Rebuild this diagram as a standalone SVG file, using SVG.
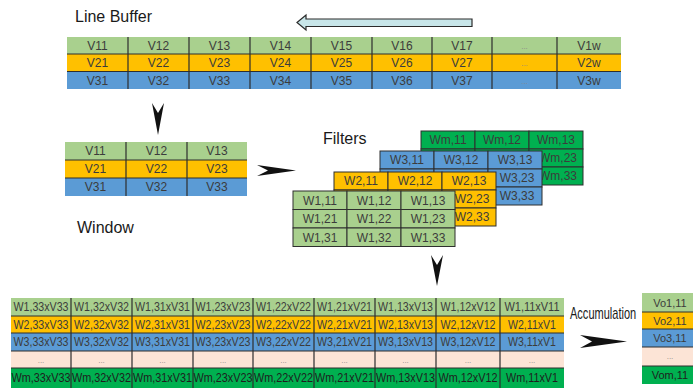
<svg xmlns="http://www.w3.org/2000/svg" width="693" height="390" viewBox="0 0 693 390">
<style>
.lg{fill:#a9d08e}.or{fill:#ffc000}.bl{fill:#5b9bd5}.dg{fill:#00b050}.pk{fill:#fce4d6}
.cell{stroke:#2e2e2e;stroke-width:1}
.ln{stroke:#2e2e2e;stroke-width:1.2;fill:none}
.t{font-family:"Liberation Sans",Arial,sans-serif;font-size:12px;fill:#3c3c3c;text-anchor:middle}
.tb{font-family:"Liberation Sans",Arial,sans-serif;font-size:12px;fill:#3c3c3c;text-anchor:middle}
.to{font-family:"Liberation Sans",Arial,sans-serif;font-size:11px;fill:#3c3c3c;text-anchor:middle}
.dots{font-family:"Liberation Sans",Arial,sans-serif;font-size:8px;fill:#8a8a8a;text-anchor:middle}
.lbl{font-family:"Liberation Sans",Arial,sans-serif;font-size:16px;fill:#1a1a1a}
.head{fill:#111}
</style>
<rect width="693" height="390" fill="#fff"/>

<g id="label-line-buffer"><text class="lbl" x="75" y="22">Line Buffer</text></g>
<g id="label-window"><text class="lbl" x="77" y="233">Window</text></g>
<g id="label-filters"><text class="lbl" x="323" y="144">Filters</text></g>
<g id="label-accumulation"><text class="lbl" transform="translate(570,319) scale(0.69,1)" x="0" y="0" font-size="17">Accumulation</text></g>

<g id="line-buffer">
<rect class="lg" x="67" y="37" width="554" height="17"/>
<rect class="or" x="67" y="54" width="554" height="17.5"/>
<rect class="bl" x="67" y="71.5" width="554" height="17.5"/>
<path class="ln" d="M67 54H621M67 71.5H621M128 37V89M189 37V89M250 37V89M311 37V89M372 37V89M432 37V89M492 37V89M557 37V89"/>
<text class="t" x="97.5" y="50">V11</text><text class="t" x="158.5" y="50">V12</text><text class="t" x="219.5" y="50">V13</text><text class="t" x="280.5" y="50">V14</text><text class="t" x="341.5" y="50">V15</text><text class="t" x="402" y="50">V16</text><text class="t" x="462" y="50">V17</text><text class="dots" x="524.5" y="49">...</text><text class="t" x="589" y="50">V1w</text>
<text class="t" x="97.5" y="67">V21</text><text class="t" x="158.5" y="67">V22</text><text class="t" x="219.5" y="67">V23</text><text class="t" x="280.5" y="67">V24</text><text class="t" x="341.5" y="67">V25</text><text class="t" x="402" y="67">V26</text><text class="t" x="462" y="67">V27</text><text class="dots" x="524.5" y="66">...</text><text class="t" x="589" y="67">V2w</text>
<text class="t" x="97.5" y="84.5">V31</text><text class="t" x="158.5" y="84.5">V32</text><text class="t" x="219.5" y="84.5">V33</text><text class="t" x="280.5" y="84.5">V34</text><text class="t" x="341.5" y="84.5">V35</text><text class="t" x="402" y="84.5">V36</text><text class="t" x="462" y="84.5">V37</text><text class="dots" x="524.5" y="83.5">...</text><text class="t" x="589" y="84.5">V3w</text>
</g>

<g id="window">
<rect class="lg" x="65" y="142" width="182" height="18"/>
<rect class="or" x="65" y="160" width="182" height="18"/>
<rect class="bl" x="65" y="178" width="182" height="18"/>
<path class="ln" d="M65 160H247M65 178H247M126 142V196M187 142V196"/>
<text class="t" x="95.5" y="155.3">V11</text><text class="t" x="156.5" y="155.3">V12</text><text class="t" x="217" y="155.3">V13</text>
<text class="t" x="95.5" y="173.3">V21</text><text class="t" x="156.5" y="173.3">V22</text><text class="t" x="217" y="173.3">V23</text>
<text class="t" x="95.5" y="191.3">V31</text><text class="t" x="156.5" y="191.3">V32</text><text class="t" x="217" y="191.3">V33</text>
</g>

<g id="filter-m">
<rect class="dg cell" x="421" y="131" width="54" height="18"/><rect class="dg cell" x="475" y="131" width="54" height="18"/><rect class="dg cell" x="529" y="131" width="54" height="18"/>
<rect class="dg cell" x="421" y="149" width="54" height="18"/><rect class="dg cell" x="475" y="149" width="54" height="18"/><rect class="dg cell" x="529" y="149" width="54" height="18"/>
<rect class="dg cell" x="421" y="167" width="54" height="18"/><rect class="dg cell" x="475" y="167" width="54" height="18"/><rect class="dg cell" x="529" y="167" width="54" height="18"/>
<text class="t" x="448" y="144.3">Wm,11</text><text class="t" x="502" y="144.3">Wm,12</text><text class="t" x="556" y="144.3">Wm,13</text>
<text class="t" x="558" y="162.3">Wm,23</text><text class="t" x="558" y="180.3">Wm,33</text>
</g>

<g id="filter-3">
<rect class="bl cell" x="380" y="151" width="54" height="18"/><rect class="bl cell" x="434" y="151" width="54" height="18"/><rect class="bl cell" x="488" y="151" width="54" height="18"/>
<rect class="bl cell" x="380" y="169" width="54" height="18"/><rect class="bl cell" x="434" y="169" width="54" height="18"/><rect class="bl cell" x="488" y="169" width="54" height="18"/>
<rect class="bl cell" x="380" y="187" width="54" height="18"/><rect class="bl cell" x="434" y="187" width="54" height="18"/><rect class="bl cell" x="488" y="187" width="54" height="18"/>
<text class="t" x="407" y="164.3">W3,11</text><text class="t" x="461" y="164.3">W3,12</text><text class="t" x="515" y="164.3">W3,13</text>
<text class="t" x="517" y="182.3">W3,23</text><text class="t" x="517" y="200.3">W3,33</text>
</g>

<g id="filter-2">
<rect class="or cell" x="334" y="172" width="54" height="18"/><rect class="or cell" x="388" y="172" width="54" height="18"/><rect class="or cell" x="442" y="172" width="54" height="18"/>
<rect class="or cell" x="334" y="190" width="54" height="18"/><rect class="or cell" x="388" y="190" width="54" height="18"/><rect class="or cell" x="442" y="190" width="54" height="18"/>
<rect class="or cell" x="334" y="208" width="54" height="18"/><rect class="or cell" x="388" y="208" width="54" height="18"/><rect class="or cell" x="442" y="208" width="54" height="18"/>
<text class="t" x="361" y="185.3">W2,11</text><text class="t" x="415" y="185.3">W2,12</text><text class="t" x="469" y="185.3">W2,13</text>
<text class="t" x="472" y="203.3">W2,23</text><text class="t" x="472" y="221.3">W2,33</text>
</g>

<g id="filter-1">
<rect class="lg cell" x="293" y="191" width="54" height="18.5"/><rect class="lg cell" x="347" y="191" width="54" height="18.5"/><rect class="lg cell" x="401" y="191" width="54" height="18.5"/>
<rect class="lg cell" x="293" y="209.5" width="54" height="18.5"/><rect class="lg cell" x="347" y="209.5" width="54" height="18.5"/><rect class="lg cell" x="401" y="209.5" width="54" height="18.5"/>
<rect class="lg cell" x="293" y="228" width="54" height="18.5"/><rect class="lg cell" x="347" y="228" width="54" height="18.5"/><rect class="lg cell" x="401" y="228" width="54" height="18.5"/>
<text class="t" x="320" y="204.5">W1,11</text><text class="t" x="374" y="204.5">W1,12</text><text class="t" x="428" y="204.5">W1,13</text>
<text class="t" x="320" y="223">W1,21</text><text class="t" x="374" y="223">W1,22</text><text class="t" x="428" y="223">W1,23</text>
<text class="t" x="320" y="241.5">W1,31</text><text class="t" x="374" y="241.5">W1,32</text><text class="t" x="428" y="241.5">W1,33</text>
</g>

<g id="products">
<rect class="lg" x="11" y="298" width="553" height="18"/>
<rect class="or" x="11" y="316" width="553" height="17"/>
<rect class="bl" x="11" y="333" width="553" height="18"/>
<rect class="pk" x="11" y="351" width="553" height="17"/>
<rect class="dg" x="11" y="368" width="553" height="20"/>
<path class="ln" d="M11 316H564M11 333H564M11 351H564M11 368H564M71 298V388M132 298V388M193 298V388M253 298V388M314 298V388M375 298V388M436 298V388M500 298V388"/>
<text class="tb" x="41" y="311.3" textLength="55" lengthAdjust="spacingAndGlyphs">W1,33xV33</text><text class="tb" x="101.5" y="311.3" textLength="55" lengthAdjust="spacingAndGlyphs">W1,32xV32</text><text class="tb" x="162.5" y="311.3" textLength="55" lengthAdjust="spacingAndGlyphs">W1,31xV31</text><text class="tb" x="223" y="311.3" textLength="55" lengthAdjust="spacingAndGlyphs">W1,23xV23</text><text class="tb" x="283.5" y="311.3" textLength="55" lengthAdjust="spacingAndGlyphs">W1,22xV22</text><text class="tb" x="344.5" y="311.3" textLength="55" lengthAdjust="spacingAndGlyphs">W1,21xV21</text><text class="tb" x="405.5" y="311.3" textLength="55" lengthAdjust="spacingAndGlyphs">W1,13xV13</text><text class="tb" x="468" y="311.3" textLength="55" lengthAdjust="spacingAndGlyphs">W1,12xV12</text><text class="tb" x="532" y="311.3" textLength="55" lengthAdjust="spacingAndGlyphs">W1,11xV11</text>
<text class="tb" x="41" y="328.8" textLength="55" lengthAdjust="spacingAndGlyphs">W2,33xV33</text><text class="tb" x="101.5" y="328.8" textLength="55" lengthAdjust="spacingAndGlyphs">W2,32xV32</text><text class="tb" x="162.5" y="328.8" textLength="55" lengthAdjust="spacingAndGlyphs">W2,31xV31</text><text class="tb" x="223" y="328.8" textLength="55" lengthAdjust="spacingAndGlyphs">W2,23xV23</text><text class="tb" x="283.5" y="328.8" textLength="55" lengthAdjust="spacingAndGlyphs">W2,22xV22</text><text class="tb" x="344.5" y="328.8" textLength="55" lengthAdjust="spacingAndGlyphs">W2,21xV21</text><text class="tb" x="405.5" y="328.8" textLength="55" lengthAdjust="spacingAndGlyphs">W2,13xV13</text><text class="tb" x="468" y="328.8" textLength="55" lengthAdjust="spacingAndGlyphs">W2,12xV12</text><text class="tb" x="532" y="328.8" textLength="48" lengthAdjust="spacingAndGlyphs">W2,11xV1</text>
<text class="tb" x="41" y="346.3" textLength="55" lengthAdjust="spacingAndGlyphs">W3,33xV33</text><text class="tb" x="101.5" y="346.3" textLength="55" lengthAdjust="spacingAndGlyphs">W3,32xV32</text><text class="tb" x="162.5" y="346.3" textLength="55" lengthAdjust="spacingAndGlyphs">W3,31xV31</text><text class="tb" x="223" y="346.3" textLength="55" lengthAdjust="spacingAndGlyphs">W3,23xV23</text><text class="tb" x="283.5" y="346.3" textLength="55" lengthAdjust="spacingAndGlyphs">W3,22xV22</text><text class="tb" x="344.5" y="346.3" textLength="55" lengthAdjust="spacingAndGlyphs">W3,21xV21</text><text class="tb" x="405.5" y="346.3" textLength="55" lengthAdjust="spacingAndGlyphs">W3,13xV13</text><text class="tb" x="468" y="346.3" textLength="55" lengthAdjust="spacingAndGlyphs">W3,12xV12</text><text class="tb" x="532" y="346.3" textLength="48" lengthAdjust="spacingAndGlyphs">W3,11xV1</text>
<text class="dots" x="41" y="363">...</text><text class="dots" x="101.5" y="363">...</text><text class="dots" x="162.5" y="363">...</text><text class="dots" x="223" y="363">...</text><text class="dots" x="283.5" y="363">...</text><text class="dots" x="344.5" y="363">...</text><text class="dots" x="405.5" y="363">...</text><text class="dots" x="468" y="363">...</text><text class="dots" x="532" y="363">...</text>
<text class="tb" x="41" y="382.3" textLength="59" lengthAdjust="spacingAndGlyphs" style="fill:#1e1e1e">Wm,33xV33</text><text class="tb" x="101.5" y="382.3" textLength="59" lengthAdjust="spacingAndGlyphs" style="fill:#1e1e1e">Wm,32xV32</text><text class="tb" x="162.5" y="382.3" textLength="59" lengthAdjust="spacingAndGlyphs" style="fill:#1e1e1e">Wm,31xV31</text><text class="tb" x="223" y="382.3" textLength="59" lengthAdjust="spacingAndGlyphs" style="fill:#1e1e1e">Wm,23xV23</text><text class="tb" x="283.5" y="382.3" textLength="59" lengthAdjust="spacingAndGlyphs" style="fill:#1e1e1e">Wm,22xV22</text><text class="tb" x="344.5" y="382.3" textLength="59" lengthAdjust="spacingAndGlyphs" style="fill:#1e1e1e">Wm,21xV21</text><text class="tb" x="405.5" y="382.3" textLength="59" lengthAdjust="spacingAndGlyphs" style="fill:#1e1e1e">Wm,13xV13</text><text class="tb" x="468" y="382.3" textLength="59" lengthAdjust="spacingAndGlyphs" style="fill:#1e1e1e">Wm,12xV12</text><text class="tb" x="532" y="382.3" textLength="52" lengthAdjust="spacingAndGlyphs" style="fill:#1e1e1e">Wm,11xV1</text>
</g>

<g id="output">
<rect class="lg" x="642" y="293" width="60" height="19"/>
<rect class="or" x="642" y="312" width="60" height="17"/>
<rect class="bl" x="642" y="329" width="60" height="18"/>
<rect class="pk" x="642" y="347" width="60" height="19"/>
<rect class="dg" x="642" y="366" width="60" height="18"/>
<path class="ln" d="M642 312H693M642 329H693M642 347H693M642 366H693"/>
<text class="to" x="670" y="306.5">Vo1,11</text>
<text class="to" x="670" y="324.5">Vo2,11</text>
<text class="to" x="670" y="342">Vo3,11</text>
<text class="dots" x="670" y="359">...</text>
<text class="to" x="670" y="379" style="fill:#1e1e1e">Vom,11</text>
</g>

<g id="connectors">
<polygon points="297,22.5 306,15 306,19 472,19 472,26.5 306,26.5 306,30" fill="#c8e6e9" stroke="#2b2b2b" stroke-width="1.2" stroke-linejoin="miter"/>
<polygon class="head" points="152,103 158,113 164,103 158,135"/>
<polygon class="head" points="257,165 296,170.5 257,176 268,170.5"/>
<polygon class="head" points="431,255 437,265 443,255 437,286"/>
<polygon class="head" points="580,335 627,341.5 580,348 592,341.5"/>
</g>
</svg>
